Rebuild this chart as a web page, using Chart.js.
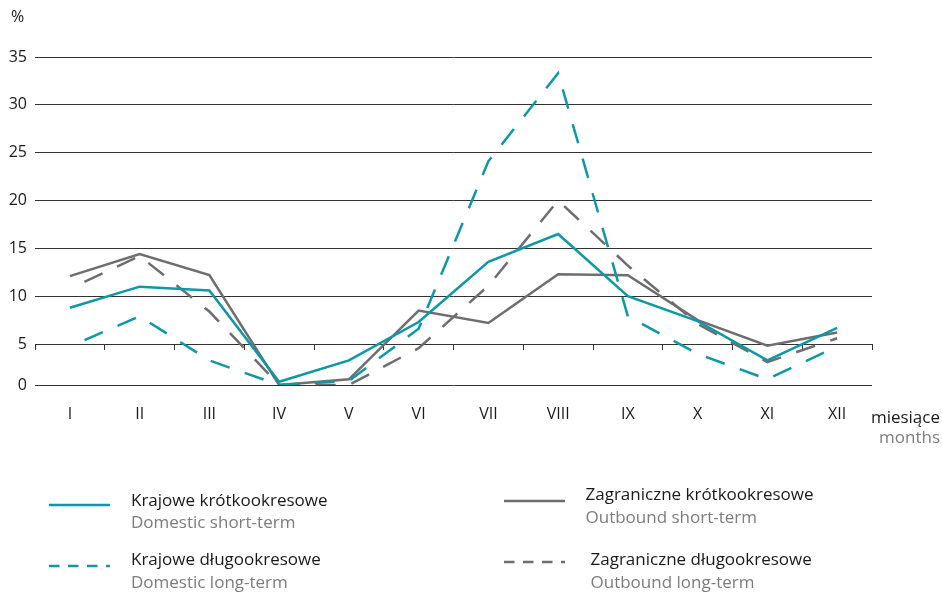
<!DOCTYPE html>
<html lang="pl">
<head>
<meta charset="utf-8">
<title>Krajowe i zagraniczne podróże według miesięcy</title>
<script src="https://cdn.jsdelivr.net/npm/chart.js@4.4.1/dist/chart.umd.min.js"></script>
<style>
  html, body { margin: 0; padding: 0; background: #fff; }
  #wrap {
    position: relative; width: 942px; height: 594px; overflow: hidden;
    font-family: 'Open Sans', 'Noto Sans', sans-serif; font-size: 17px; line-height: 20px; color: #1a1a1a;
  }
  #chart { position: absolute; left: 0; top: 0; }
  .t { position: absolute; white-space: nowrap; }
  .sub { color: #7c7c7c; }
  .sw { position: absolute; overflow: visible; }
</style>
</head>
<body>
<div id="wrap">
  <canvas id="chart" width="942" height="594"></canvas>
  <div class="t" style="left:11px; top:5.5px; font-size:16px;">%</div>
  <div class="t" style="right:2px; top:406.5px;">miesiące</div>
  <div class="t sub" style="right:2px; top:427px;">months</div>
  <div id="legend"></div>
</div>
<script>
// Months on the category axis
const months = ['I', 'II', 'III', 'IV', 'V', 'VI', 'VII', 'VIII', 'IX', 'X', 'XI', 'XII'];

// Monthly shares, %
const domesticShort = [8.8, 11.0, 10.6, 0.4, 3.0, 7.3, 13.6, 16.5, 10.0, 7.4, 3.0, 6.7];
const domesticLong  = [4.7, 7.9, 3.0, 0.0, 0.5, 6.6, 24.1, 33.3, 7.9, 3.8, 0.7, 4.7];
const outboundShort = [12.1, 14.4, 12.2, 0.0, 0.7, 8.5, 7.2, 12.3, 12.2, 7.5, 4.8, 6.2];
const outboundLong  = [10.8, 14.2, 8.4, 0.0, 0.0, 4.5, 11.1, 20.0, 13.2, 7.1, 2.8, 5.6];

// Value axis tick labels
const valueTicks = [0, 5, 10, 15, 20, 25, 30, 35];

// Series names (Polish / English)
const namesPl = ['Krajowe krótkookresowe', 'Krajowe długookresowe', 'Zagraniczne krótkookresowe', 'Zagraniczne długookresowe'];
const namesEn = ['Domestic short-term', 'Domestic long-term', 'Outbound short-term', 'Outbound long-term'];

const TEAL = '#0a99a5';
const GREY = '#6e6e70';
const GRID = '#333333';
const DASH = [20, 16];

// Value axis whose lowest band (0-5) is drawn at a reduced pitch
const BREAK = 5;
const LOW_PITCH = 0.856;
class SplitLinearScale extends Chart.LinearScale {
  static id = 'splitLinear';
  warpValue(v) { return v >= BREAK ? v : BREAK - (BREAK - v) * LOW_PITCH; }
  unwarpValue(u) { return u >= BREAK ? u : BREAK - (BREAK - u) / LOW_PITCH; }
  getPixelForValue(value) {
    if (value === null || value === undefined || isNaN(value)) return NaN;
    const lo = this.warpValue(this.min), hi = this.warpValue(this.max);
    return this.getPixelForDecimal((this.warpValue(value) - lo) / (hi - lo));
  }
  getValueForPixel(pixel) {
    const lo = this.warpValue(this.min), hi = this.warpValue(this.max);
    return this.unwarpValue(lo + this.getDecimalForPixel(pixel) * (hi - lo));
  }
}
Chart.register(SplitLinearScale);

Chart.defaults.font.family = "'Open Sans', 'Noto Sans', sans-serif";
Chart.defaults.font.size = 16;
Chart.defaults.color = '#1a1a1a';

const lineStyle = (color, dashed) => ({
  borderColor: color,
  backgroundColor: color,
  borderWidth: 2.5,
  borderDash: dashed ? DASH : [],
  borderDashOffset: dashed ? DASH[0] : 0,
  pointRadius: 0,
  pointHoverRadius: 0,
  tension: 0,
  fill: false
});

const datasets = [
  { label: namesPl[0], data: domesticShort, ...lineStyle(TEAL, false) },
  { label: namesPl[1], data: domesticLong, ...lineStyle(TEAL, true) },
  { label: namesPl[2], data: outboundShort, ...lineStyle(GREY, false) },
  { label: namesPl[3], data: outboundLong, ...lineStyle(GREY, true) }
];

new Chart(document.getElementById('chart'), {
  type: 'line',
  data: { labels: months, datasets },
  options: {
    responsive: false,
    animation: false,
    layout: { padding: { top: 57, right: 70, bottom: 209, left: 0 } },
    plugins: { legend: { display: false }, tooltip: { enabled: false } },
    scales: {
      x: {
        type: 'category',
        position: { y: 5 },
        offset: true,
        grid: { offset: true, drawOnChartArea: false, drawTicks: true, tickLength: 5, color: GRID, lineWidth: 1 },
        border: { display: true, color: GRID, width: 1 },
        ticks: { padding: 56, maxRotation: 0, autoSkip: false, color: '#1a1a1a' }
      },
      y: {
        type: 'splitLinear',
        position: 'left',
        min: 0,
        max: 35,
        afterBuildTicks: (scale) => { scale.ticks = valueTicks.map(v => ({ value: v })); },
        afterFit: (scale) => { scale.width = 35; },
        grid: { drawTicks: false, color: GRID, lineWidth: 1 },
        border: { display: false },
        ticks: { padding: 8, color: '#1a1a1a' }
      }
    }
  }
});

// Two-column bilingual legend
const legendSlots = [
  { x: 49, swY: 505, textX: 131, topPl: 489.5, topEn: 512.3, color: TEAL, dashed: false },
  { x: 49, swY: 566, textX: 131, topPl: 549.2, topEn: 571.8, color: TEAL, dashed: true },
  { x: 504, swY: 500.7, textX: 585.5, topPl: 484, topEn: 506.5, color: GREY, dashed: false },
  { x: 504, swY: 561.7, textX: 590.5, topPl: 548.7, topEn: 572, color: GREY, dashed: true }
];
const legend = document.getElementById('legend');
const SVGNS = 'http://www.w3.org/2000/svg';
legendSlots.forEach((s, i) => {
  const svg = document.createElementNS(SVGNS, 'svg');
  svg.setAttribute('class', 'sw');
  svg.setAttribute('width', '61');
  svg.setAttribute('height', '6');
  svg.style.left = s.x + 'px';
  svg.style.top = (s.swY - 3) + 'px';
  const ln = document.createElementNS(SVGNS, 'line');
  ln.setAttribute('x1', '0'); ln.setAttribute('x2', '61');
  ln.setAttribute('y1', '3'); ln.setAttribute('y2', '3');
  ln.setAttribute('stroke', s.color);
  ln.setAttribute('stroke-width', '2.5');
  if (s.dashed) ln.setAttribute('stroke-dasharray', '10.5 8.5');
  svg.appendChild(ln);
  legend.appendChild(svg);

  const pl = document.createElement('div');
  pl.className = 't';
  pl.style.left = s.textX + 'px';
  pl.style.top = s.topPl + 'px';
  pl.textContent = namesPl[i];
  legend.appendChild(pl);

  const en = document.createElement('div');
  en.className = 't sub';
  en.style.left = s.textX + 'px';
  en.style.top = s.topEn + 'px';
  en.textContent = namesEn[i];
  legend.appendChild(en);
});
</script>
</body>
</html>
